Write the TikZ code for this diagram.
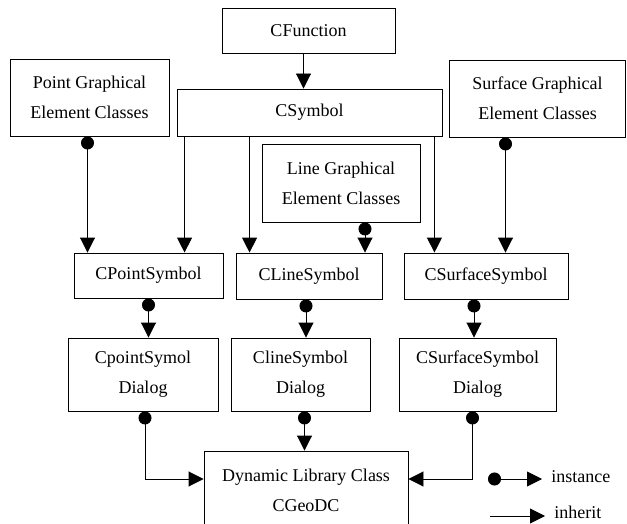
\documentclass[tikz,border=0pt]{standalone}
\usepackage{fontspec}
\setmainfont{Liberation Serif}
\usepackage{tikz}
\usetikzlibrary{arrows.meta}

\begin{document}
\begin{tikzpicture}[x=1pt,y=-1pt,line width=0.9pt,
                    inh/.style={-{Triangle[length=15pt,width=15pt]}},
                    inst/.style={{Circle[length=13pt]}-{Triangle[length=15pt,width=15pt]}}]
\tikzset{cls/.style={draw,align=center,inner sep=0pt,font=\fontsize{18}{30}\selectfont}}
\tikzset{leg/.style={anchor=west,inner xsep=9pt,inner ysep=0pt,font=\fontsize{18}{22}\selectfont}}
\useasboundingbox (0,0) rectangle (627,524);

        % top row
        \node[cls, minimum width=173pt, minimum height=45pt]   (fun)  at (308.5,30.5)  {CFunction};
        \node[cls, minimum width=159pt, minimum height=77pt]   (ptg)  at (89.5,97.5)   {Point Graphical\\Element Classes};
        \node[cls, minimum width=265pt, minimum height=47pt]   (sym)  at (309.5,112.5) {CSymbol};
        \node[cls, minimum width=176pt, minimum height=77pt]   (srg)  at (537.5,98.5)  {Surface Graphical\\Element Classes};
        \node[cls, minimum width=158pt, minimum height=78pt]   (lng)  at (341,183)     {Line Graphical\\Element Classes};

        % symbol classes
        \node[cls, minimum width=149pt, minimum height=45pt]   (psym) at (148.5,275.5) {CPointSymbol};
        \node[cls, minimum width=146pt, minimum height=46pt]   (lsym) at (309,276)     {CLineSymbol};
        \node[cls, minimum width=164pt, minimum height=46pt]   (ssym) at (486,276)     {CSurfaceSymbol};

        % dialogs
        \node[cls, minimum width=150pt, minimum height=73pt]   (pdlg) at (143,374.5)   {CpointSymol\\Dialog};
        \node[cls, minimum width=139pt, minimum height=73pt]   (ldlg) at (300.5,374.5) {ClineSymbol\\Dialog};
        \node[cls, minimum width=157pt, minimum height=73pt]   (sdlg) at (477.5,374.5) {CSurfaceSymbol\\Dialog};

        \node[cls, minimum width=204pt, minimum height=78pt]   (lib)  at (306,490)     {Dynamic Library Class\\CGeoDC};

        % legend
        \coordinate (i0) at (488,479);
        \coordinate (h0) at (490,516);
        \node[leg] (insttxt) at (542,477) {instance};
        \node[leg] (inhtxt)  at (545,512) {inherit};

        \path[inh]
        ([xshift=-5pt]fun.south)      edge  ([xshift=-5pt]fun.south |- sym.north)
        ([xshift=8pt]sym.south west)  edge  ([xshift=8pt]sym.south west |- psym.north)
        ([xshift=73pt]sym.south west) edge  ([xshift=73pt]sym.south west |- lsym.north)
        ([xshift=-8pt]sym.south east) edge  ([xshift=-8pt]sym.south east |- ssym.north)
        ; %end path

        \path[inst]
        ([xshift=-2pt]ptg.south)    edge  ([xshift=-2pt]ptg.south |- psym.north)
        ([xshift=-32pt]srg.south)   edge  ([xshift=-32pt]srg.south |- ssym.north)
        ([xshift=24pt]lng.south)    edge  ([xshift=24pt]lng.south |- lsym.north)
        (psym.south)                edge  (psym.south |- pdlg.north)
        ([xshift=-3pt]lsym.south)   edge  ([xshift=-3pt]lsym.south |- ldlg.north)
        ([xshift=-12pt]ssym.south)  edge  ([xshift=-12pt]ssym.south |- sdlg.north)
        ([xshift=4pt]ldlg.south)    edge  ([xshift=4pt]ldlg.south |- lib.north)
        ; %end path

        \draw[inst] ([xshift=2pt]pdlg.south)  |- ([yshift=11pt]lib.west);
        \draw[inst] ([xshift=-5pt]sdlg.south) |- ([yshift=11pt]lib.east);

        \draw[inst] (i0) -- (insttxt.west |- i0);
        \draw[inh]  (h0) -- (inhtxt.west |- h0);

\end{tikzpicture}
\end{document}
